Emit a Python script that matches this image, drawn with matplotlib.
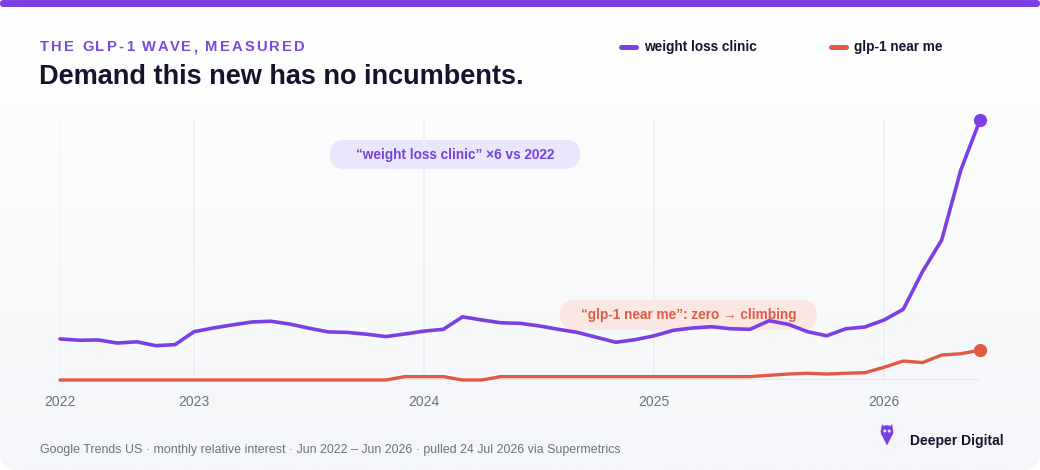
#!/usr/bin/env python3
"""
GLP-1 search demand chart: weight loss clinic vs glp-1 near me
"""

import numpy as np
import pandas as pd
import matplotlib
matplotlib.use('Agg')
import matplotlib.pyplot as plt
from matplotlib.patches import FancyBboxPatch, Circle, Polygon

# Monthly Google Trends relative interest, Jun 2022 - Jun 2026
months = pd.date_range('2022-06-01', '2026-06-01', freq='MS')

weight_loss_clinic = [
    15.8, 15.3, 15.4, 14.2, 14.7, 13.2, 13.6,              # Jun-Dec 2022
    18.6, 20.0, 21.2, 22.3, 22.6, 21.5, 19.9, 18.5, 18.3, 17.6, 16.7, 17.7,  # 2023
    18.8, 19.5, 24.3, 23.1, 22.0, 21.8, 20.8, 19.5, 18.3, 16.4, 14.5, 15.5,  # 2024
    17.0, 19.1, 20.0, 20.5, 19.7, 19.5, 22.8, 21.4, 18.6, 17.0, 19.7, 20.4,  # 2025
    23.1, 27.2, 41.7, 53.8, 80.8, 100.0,                    # Jan-Jun 2026
]

glp1_near_me = [
    0, 0, 0, 0, 0, 0, 0,
    0, 0, 0, 0, 0, 0, 0, 0, 0, 0, 0, 1.3,
    1.3, 1.3, 0, 0, 1.3, 1.3, 1.3, 1.3, 1.3, 1.3, 1.3, 1.3,
    1.3, 1.3, 1.3, 1.3, 1.3, 1.3, 1.8, 2.3, 2.6, 2.3, 2.6, 2.8,
    4.9, 7.3, 6.7, 9.6, 10.1, 11.5,
]

tick_labels = ['2022', '2023', '2024', '2025', '2026']
tick_months = ['2022-06', '2023-01', '2024-01', '2025-01', '2026-01']

series_names = ['weight loss clinic', 'glp-1 near me']

PURPLE = '#7b3fe4'
RED = '#e05a44'
DARK = '#16132d'
GRAY = '#6b7280'

W, H = 1040, 470
FONT = ['Liberation Sans', 'DejaVu Sans']
plt.rcParams['font.family'] = FONT


def spaced_text(ax, renderer, x, y, s, spacing, **kw):
    """Draw text with letter spacing (pixel coords on a full-figure axes)"""
    probe = ax.text(0, 0, '|', **kw)
    bar_w = probe.get_window_extent(renderer).width
    probe.remove()
    for k, ch in enumerate(s):
        if k == 0:
            off = 0
        else:
            t = ax.text(0, 0, s[:k] + '|', **kw)
            off = t.get_window_extent(renderer).width - bar_w
            t.remove()
        ax.text(x + off + k * spacing, y, ch, ha='left', **kw)


fig = plt.figure(figsize=(W / 100, H / 100), dpi=100)
fig.patch.set_facecolor('white')
renderer = fig.canvas.get_renderer()

# Background card (pixel coordinates)
bg = fig.add_axes([0, 0, 1, 1], zorder=0)
bg.set_xlim(0, W)
bg.set_ylim(H, 0)
bg.axis('off')

grad = np.linspace(0, 1, 256).reshape(-1, 1)
top = np.array([1.0, 1.0, 1.0])
bot = np.array([0xf4, 0xf6, 0xf9]) / 255
img = top + (bot - top) * grad[..., None]
card = FancyBboxPatch((0, 0), W, H, boxstyle='round,pad=0,rounding_size=16',
                      facecolor='none', edgecolor='none')
bg.add_patch(card)
im = bg.imshow(img, extent=(0, W, H, 0), aspect='auto', zorder=0)
im.set_clip_path(card)
bg.add_patch(FancyBboxPatch((0, 0), W, 7, boxstyle='round,pad=0,rounding_size=3.5',
                            facecolor=PURPLE, edgecolor='none', zorder=2))

# Headline
spaced_text(bg, renderer, 40, 47, 'THE GLP-1 WAVE, MEASURED', 2.1,
            fontsize=10.6, fontweight='bold', color='#7a4ae0', va='center')
bg.text(39, 77.5, 'Demand this new has no incumbents.', fontsize=19.5,
        fontweight='bold', color=DARK, va='center', ha='left')

# Legend
for (x0, col, name) in [(621, PURPLE, series_names[0]), (831, RED, series_names[1])]:
    bg.plot([x0, x0 + 15], [47, 47], color=col, lw=3.6, solid_capstyle='round')
    bg.text(x0 + 23, 47, name, fontsize=9.8, fontweight='bold', color=DARK,
            va='center', ha='left')

# Annotation pills
bg.add_patch(FancyBboxPatch((330, 140), 250, 29, boxstyle='round,pad=0,rounding_size=14.5',
                            facecolor='#ece6fc', edgecolor='none', zorder=1))
bg.add_patch(FancyBboxPatch((560, 300), 257, 30, boxstyle='round,pad=0,rounding_size=15',
                            facecolor='#fbe7e2', edgecolor='none', zorder=1))

# Footer
bg.text(40, 450, 'Google Trends US · monthly relative interest · Jun 2022 – Jun 2026 · '
        'pulled 24 Jul 2026 via Supermetrics', fontsize=8.95, color=GRAY,
        va='center', ha='left')

# Logo: little purple owl pin
bg.add_patch(Circle((887, 431.5), 6.3, facecolor=PURPLE, edgecolor='none', zorder=3))
bg.add_patch(Polygon([(881.2, 434), (892.8, 434), (887, 445.5)], closed=True,
                     facecolor=PURPLE, edgecolor='none', zorder=3))
bg.add_patch(Polygon([(881.3, 429), (881.8, 424), (884.5, 427)], closed=True,
                     facecolor=PURPLE, edgecolor='none', zorder=3))
bg.add_patch(Polygon([(892.7, 429), (892.2, 424), (889.5, 427)], closed=True,
                     facecolor=PURPLE, edgecolor='none', zorder=3))
for ex in (884.8, 889.2):
    bg.add_patch(Circle((ex, 431), 1.5, facecolor='#e9e0ff', edgecolor='none', zorder=4))
bg.text(910, 441.5, 'Deeper Digital', fontsize=10, fontweight='bold', color=DARK,
        va='center', ha='left')

# Chart
ax = fig.add_axes([60 / W, 90 / H, 920 / W, 260 / H], zorder=1)
ax.patch.set_alpha(0)
x = np.arange(len(months))
ax.set_xlim(0, len(months) - 1)
ax.set_ylim(0, 100)

month_keys = list(months.strftime('%Y-%m'))
tick_pos = [month_keys.index(m) for m in tick_months]
for p in tick_pos:
    ax.axvline(p, color='#eceef2', lw=1.1, zorder=0)
ax.axhline(0, color='#e4e6eb', lw=2, zorder=1)

ax.plot(x, weight_loss_clinic, color=PURPLE, lw=2.6, solid_joinstyle='round',
        solid_capstyle='round', clip_on=False, zorder=3)
ax.plot(x, glp1_near_me, color=RED, lw=2.4, solid_joinstyle='round',
        solid_capstyle='round', clip_on=False, zorder=2)
ax.plot(x[-1], weight_loss_clinic[-1], 'o', color=PURPLE, ms=8.5, clip_on=False, zorder=4)
ax.plot(x[-1], glp1_near_me[-1], 'o', color=RED, ms=8.5, clip_on=False, zorder=4)

ax.set_xticks(tick_pos)
ax.set_xticklabels(tick_labels, fontsize=10, color=GRAY)
ax.tick_params(axis='x', length=0, pad=10.5)
ax.set_yticks([])
for sp in ax.spines.values():
    sp.set_visible(False)

# Annotation text on top of the lines
fg = fig.add_axes([0, 0, 1, 1], zorder=2)
fg.set_xlim(0, W)
fg.set_ylim(H, 0)
fg.axis('off')
fg.text(455, 155, '\u201cweight loss clinic\u201d \u00d76 vs 2022', fontsize=9.8,
        fontweight='bold', color='#7044dc', ha='center', va='center')
fg.text(688.5, 315, '\u201cglp-1 near me\u201d: zero \u2192 climbing', fontsize=9.8,
        fontweight='bold', color='#de5c47', ha='center', va='center', family=FONT)

fig.savefig('out.png', dpi=100)
